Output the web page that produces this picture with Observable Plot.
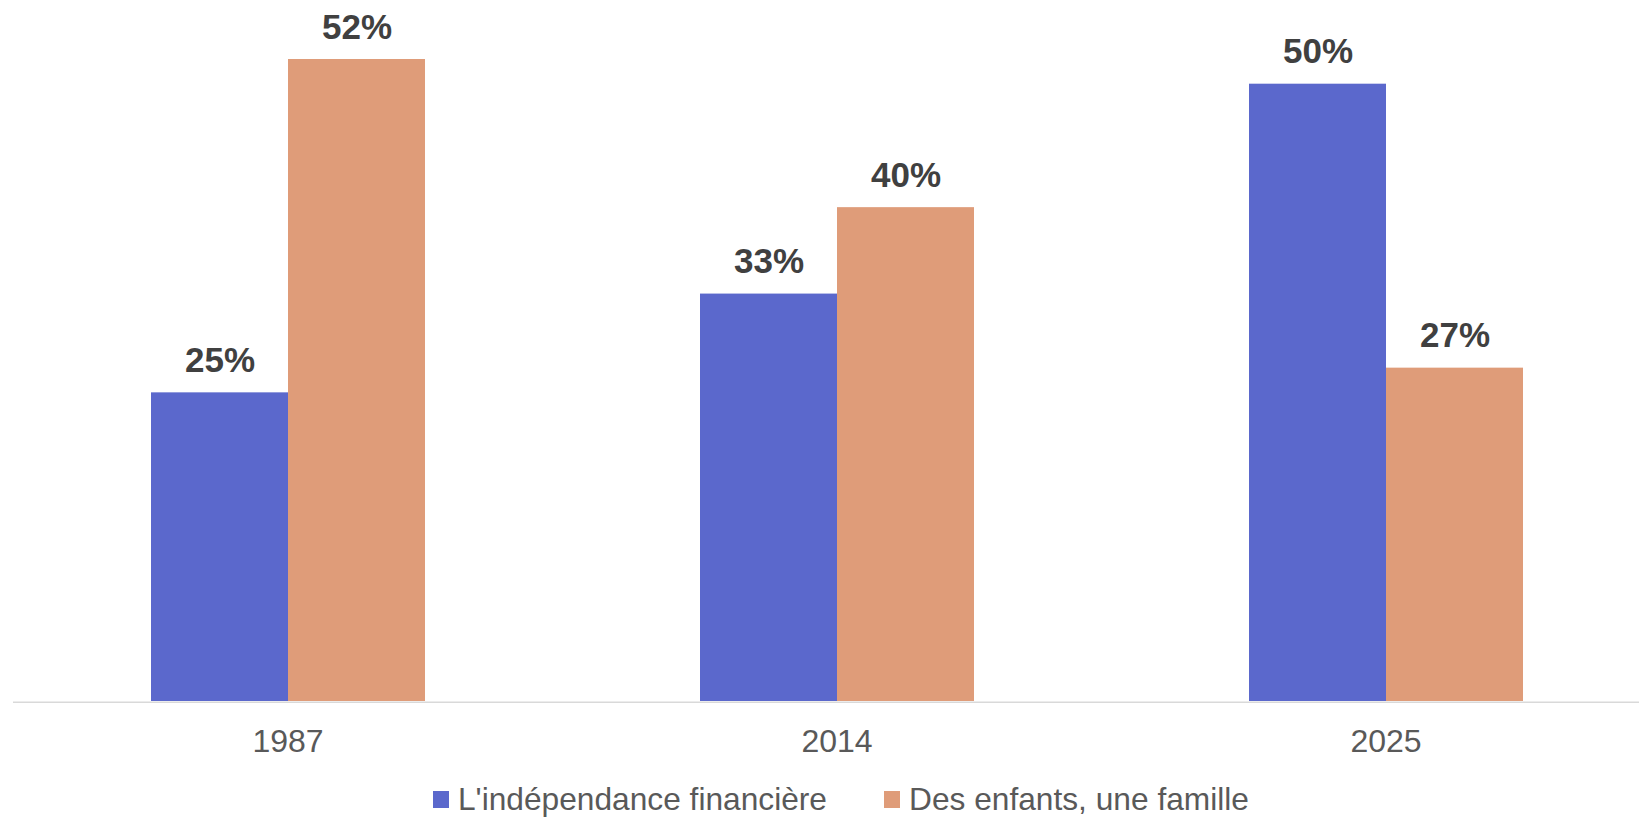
<!DOCTYPE html>
<html>
<head>
<meta charset="utf-8">
<script src="https://cdn.jsdelivr.net/npm/d3@7"></script>
<script src="https://cdn.jsdelivr.net/npm/@observablehq/plot@0.6"></script>
<style>
  html, body { margin: 0; padding: 0; background: #fff; overflow: hidden; }
  body { width: 1639px; height: 819px; font-family: "Liberation Sans", Arial, sans-serif; }
  #legend { display: flex; align-items: center; margin-left: 433px; margin-top: 3px; height: 32px; line-height: 32px; font-size: 31.7px; color: #595959; white-space: nowrap; }
  .sw { width: 16px; height: 17px; display: inline-block; margin-right: 9px; }
  .item { display: flex; align-items: center; }
  .item + .item { margin-left: 57px; }
</style>
</head>
<body>
<div id="chart"></div>
<div id="legend"></div>
<script>
const years = ["1987", "2014", "2025"];
const series = ["L'indépendance financière", "Des enfants, une famille"];
const independance = [25, 33, 50];
const famille = [52, 40, 27];
const colors = ["#5b68cc", "#df9c79"];

const data = [];
years.forEach((y, i) => {
  data.push({year: y, series: series[0], value: independance[i]});
  data.push({year: y, series: series[1], value: famille[i]});
});

const chart = Plot.plot({
  width: 1639,
  height: 780,
  marginLeft: 12,
  marginRight: 0,
  marginTop: 59,
  marginBottom: 79,
  style: {fontFamily: "'Liberation Sans', Arial, sans-serif", fontSize: "32px", color: "#595959", background: "#fff"},
  fx: {domain: years, range: [12, 1661], padding: 0, axis: "bottom", tickSize: 0, tickPadding: 28, label: null},
  x: {domain: series, paddingInner: 0, paddingOuter: 1, axis: null},
  y: {domain: [0, 52], axis: null},
  color: {domain: series, range: colors},
  marks: [
    Plot.barY(data, {fx: "year", x: "series", y: "value", fill: "series"}),
    Plot.ruleY([0], {stroke: "#d9d9d9", strokeWidth: 1.5, dy: 0.75}),
    Plot.text(data, {fx: "year", x: "series", y: "value", text: d => `${d.value}%`, lineAnchor: "bottom", dy: -21, fontSize: 35, fontWeight: "bold", fill: "#404040"})
  ]
});
document.getElementById("chart").appendChild(chart);

const legend = document.getElementById("legend");
series.forEach((s, i) => {
  const item = document.createElement("span");
  item.className = "item";
  const sw = document.createElement("span");
  sw.className = "sw";
  sw.style.background = colors[i];
  const t = document.createElement("span");
  t.textContent = s;
  item.appendChild(sw);
  item.appendChild(t);
  legend.appendChild(item);
});
</script>
</body>
</html>
